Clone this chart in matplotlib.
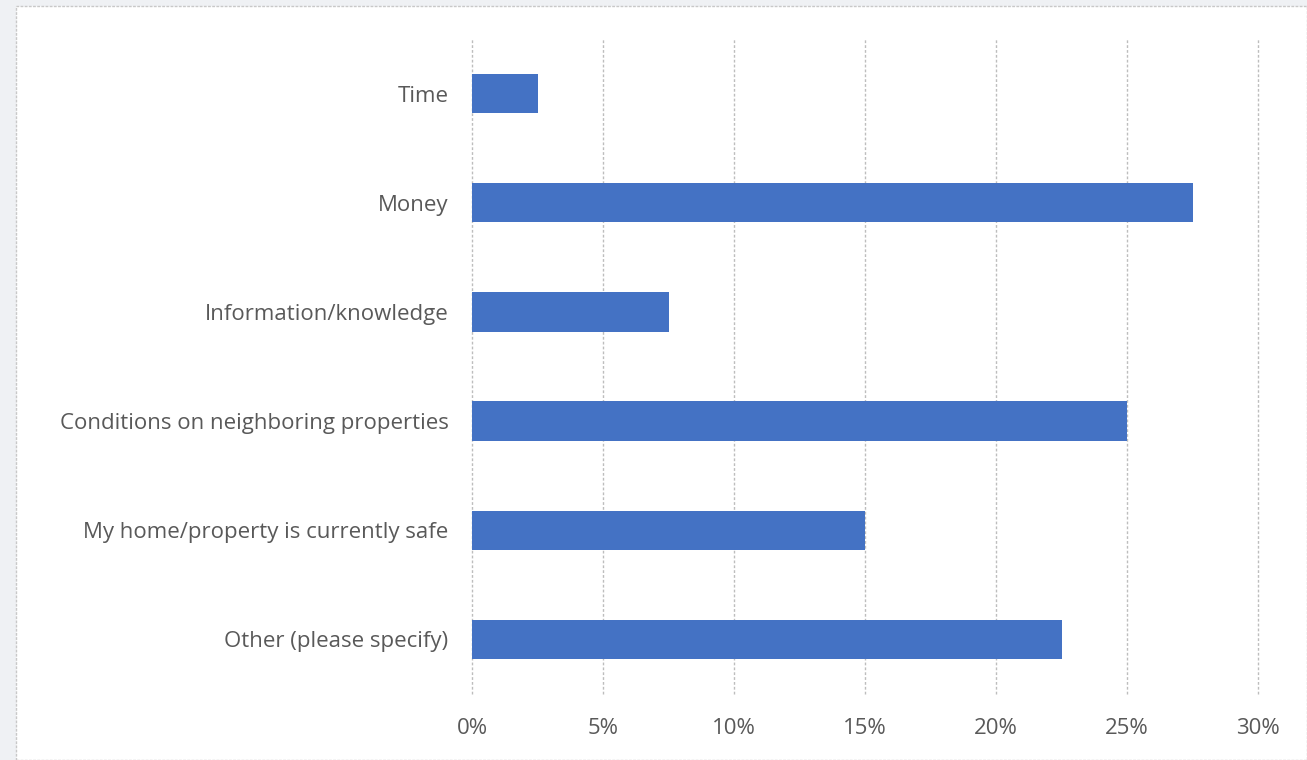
import matplotlib.pyplot as plt
from matplotlib.patches import Rectangle
from matplotlib.ticker import PercentFormatter

categories = ["Time", "Money", "Information/knowledge",
              "Conditions on neighboring properties",
              "My home/property is currently safe", "Other (please specify)"]
shares = [2.5, 27.5, 7.5, 25.0, 15.0, 22.5]
xticks = [0, 5, 10, 15, 20, 25, 30]

W, H = 1307, 760
fig = plt.figure(figsize=(W / 100, H / 100), dpi=100, facecolor="#eff1f4")

# white chart panel with thin grey frame
panel = Rectangle((16 / W, 0), 1 - 16 / W, 1 - 6 / H, transform=fig.transFigure,
                  facecolor="white", edgecolor="#c8c8c8", linewidth=1.0,
                  linestyle=(0, (2, 1)), zorder=-10)
fig.patches.append(panel)

ax = fig.add_axes([472 / W, 1 - 694 / H, (1258 - 472) / W, (694 - 39) / H])
ax.set_facecolor("none")
ax.set_zorder(1)

y = list(range(len(categories)))
ax.barh(y, shares, height=0.36, color="#4472c4", zorder=3)

ax.set_xlim(0, 30)
ax.set_ylim(len(categories) - 0.5, -0.5)
ax.set_xticks(xticks)
ax.xaxis.set_major_formatter(PercentFormatter(decimals=0))
ax.set_yticks(y)
ax.set_yticklabels(categories)

ax.grid(axis="x", color="#bdbdbd", linestyle=(0, (2, 1.5)), linewidth=1.0, zorder=0)
for gl in ax.get_xgridlines():
    gl.set_clip_on(False)
for s in ax.spines.values():
    s.set_visible(False)
ax.tick_params(axis="both", length=0, colors="#595959", labelsize=16)
ax.tick_params(axis="x", pad=17)
ax.tick_params(axis="y", pad=17)
for lab in ax.get_xticklabels() + ax.get_yticklabels():
    lab.set_fontfamily("Open Sans")

fig.savefig("out.png", dpi=100, facecolor=fig.get_facecolor())
